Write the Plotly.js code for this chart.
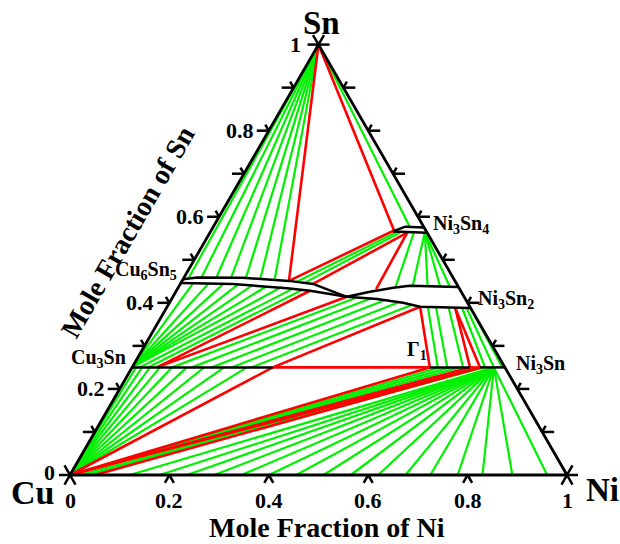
<!DOCTYPE html>
<html><head><meta charset="utf-8">
<script src="https://cdn.plot.ly/plotly-3.0.1.min.js"></script>
<style>html,body{margin:0;padding:0;background:#fff;}#chart{width:620px;height:544px;}</style>
</head><body><div id="chart"></div>
<script>
// All compositions are [mole fraction Ni, mole fraction Sn]
const cornerCu = [0, 0], cornerNi = [1, 0], cornerSn = [0, 1];

// single-phase boundaries (black)
const cu6sn5Top = [[0,0.455],[0.026,0.459],[0.119,0.458],[0.215,0.451],[0.267,0.444],[0.350,0.414]];
const cu6sn5Bot = [[0,0.446],[0.106,0.4435],[0.220,0.434],[0.269,0.428],[0.350,0.414]];
const ni3sn2Top = [[0.350,0.414],[0.391,0.4256],[0.433,0.435],[0.464,0.4395],[0.563,0.437]];
const ni3sn2Bot = [[0.350,0.414],[0.413,0.409],[0.470,0.400],[0.509,0.391],[0.612,0.388]];
const ni3sn4Top = [[0.367,0.566],[0.386,0.577],[0.425,0.575]];
const ni3sn4Bot = [[0.367,0.566],[0.437,0.563]];
const cu3snLine = [[0,0.25],[0.283,0.25]];
const gamma1Line = [[0.599,0.25],[0.680,0.25]];
const ni3snLine = [[0.700,0.25],[0.750,0.25]];

// three-phase triangle edges (red)
const redLines = [
  [[0,1],[0.215,0.451]],
  [[0,1],[0.368,0.568]],
  [[0.215,0.451],[0.368,0.568]],
  [[0.267,0.444],[0.397,0.563]],
  [[0.397,0.563],[0.400,0.432]],
  [[0.050,0.25],[0.269,0.428]],
  [[0.050,0.25],[0.350,0.414]],
  [[0.283,0.25],[0.509,0.391]],
  [[0.509,0.391],[0.599,0.25]],
  [[0.283,0.25],[0.599,0.25]],
  [[0.581,0.388],[0.680,0.25]],
  [[0.581,0.388],[0.700,0.25]],
  [[0.680,0.25],[0.700,0.25]],
  [[0,0],[0.283,0.25]],
  [[0,0],[0.599,0.25]],
  [[0,0],[0.680,0.25]],
  [[0,0],[0.700,0.25]],
  [[0.05,0],[0.700,0.25]]
];

// tie lines (green)
const tieLiqCu6Sn5 = [[0.01,0.457],[0.035,0.459],[0.065,0.459],[0.095,0.458],[0.125,0.458],[0.155,0.456],[0.185,0.453]];
const tieLiqNi3Sn4 = [[0.395,0.577]];
const tieCu6Sn5Ni3Sn4 = [[[0.232,0.449],[0.377,0.566]],[[0.249,0.447],[0.386,0.566]]];
const tieNi3Sn4Ni3Sn2 = [
  [[0.410,0.564],[0.437,0.435]],
  [[0.432,0.564],[0.470,0.439]],
  [[0.432,0.564],[0.500,0.439]],
  [[0.432,0.564],[0.525,0.439]],
  [[0.432,0.564],[0.545,0.438]]
];
const tieCu3SnCu6Sn5 = [
  [[0,0.25],[0.025,0.445]],[[0,0.25],[0.056,0.444]],[[0,0.25],[0.086,0.443]],
  [[0,0.25],[0.116,0.442]],[[0,0.25],[0.146,0.440]],[[0,0.25],[0.176,0.438]],
  [[0,0.25],[0.207,0.436]],[[0.015,0.25],[0.232,0.433]],[[0.032,0.25],[0.252,0.430]]
];
const tieCu3SnNi3Sn2 = [
  [[0.08,0.25],[0.37,0.412]],[[0.12,0.25],[0.40,0.410]],[[0.16,0.25],[0.43,0.406]],
  [[0.20,0.25],[0.46,0.401]],[[0.24,0.25],[0.49,0.395]]
];
const tieGamma1Ni3Sn2 = [[[0.615,0.25],[0.525,0.390]],[[0.634,0.25],[0.542,0.389]],[[0.666,0.25],[0.568,0.388]]];
const tieNi3SnNi3Sn2 = [[[0.710,0.25],[0.595,0.388]],[[0.728,0.25],[0.603,0.389]],[[0.745,0.25],[0.610,0.390]]];
const tieFccCu3Sn = [[0.008,0.25],[0.020,0.25],[0.036,0.25],[0.056,0.25],[0.080,0.25],[0.110,0.25],[0.145,0.25],[0.185,0.25],[0.231,0.25]];
const tieFccGamma1 = [[0.620,0.25],[0.640,0.25],[0.660,0.25]];
const tieFccNi3SnNear = [[[0.020,0],[0.704,0.25]],[[0.035,0],[0.708,0.25]]];
const ni3snFanCenter = [0.728, 0.25];
const tieFccNi3Sn = [0.12,0.18,0.235,0.29,0.345,0.40,0.455,0.51,0.565,0.62,0.675,0.725,0.78,0.83,0.89,0.96];

// axis ticks and labels
const niTickVals = [0, 0.2, 0.4, 0.6, 0.8, 1];
const niTickText = ['0', '0.2', '0.4', '0.6', '0.8', '1'];
const niTickMarks = [0.2, 0.4, 0.6, 0.8];
const snTickVals = [0, 0.2, 0.4, 0.6, 0.8, 1];
const snTickText = ['0', '0.2', '0.4', '0.6', '0.8', '1'];
const snTickMarks = [0.1,0.2,0.3,0.4,0.5,0.6,0.7,0.8,0.9];

// phase labels: [text, Ni, Sn, xanchor, xshift, yshift]
const phaseLabels = [
  ['Ni<sub>3</sub>Sn<sub>4</sub>', 0.428, 0.572, 'left', 6, 4],
  ['Cu<sub>6</sub>Sn<sub>5</sub>', 0, 0.455, 'right', -4, 9],
  ['Ni<sub>3</sub>Sn<sub>2</sub>', 0.60, 0.40, 'left', 8, 3],
  ['Cu<sub>3</sub>Sn', 0, 0.25, 'right', -4, 9],
  ['Ni<sub>3</sub>Sn', 0.75, 0.25, 'left', 9, 3],
  ['Γ<sub>1</sub>', 0.56, 0.25, 'left', -5, 17]
];

// ---------- drawing ----------
const S3 = Math.sqrt(3) / 2;
const PX = 1 / 497;
function toXY(p) { return [p[0] + p[1] / 2, p[1] * S3]; }
function segTrace(segs, color, width) {
  const x = [], y = [];
  segs.forEach(s => { s.forEach(p => { const q = toXY(p); x.push(q[0]); y.push(q[1]); }); x.push(null); y.push(null); });
  return {type:'scatter', mode:'lines', x, y, line:{color, width}, hoverinfo:'skip', showlegend:false, cliponaxis:false};
}
function rawTrace(x, y, color, width) {
  return {type:'scatter', mode:'lines', x, y, line:{color, width}, hoverinfo:'skip', showlegend:false, cliponaxis:false};
}
const fan = (from, ends) => ends.map(e => [from, e]);

const greenSegs = [].concat(
  fan(cornerSn, tieLiqCu6Sn5), fan(cornerSn, tieLiqNi3Sn4), tieCu6Sn5Ni3Sn4, tieNi3Sn4Ni3Sn2,
  tieCu3SnCu6Sn5, tieCu3SnNi3Sn2, tieGamma1Ni3Sn2, tieNi3SnNi3Sn2,
  fan(cornerCu, tieFccCu3Sn), fan(cornerCu, tieFccGamma1), tieFccNi3SnNear,
  tieFccNi3Sn.map(n => [[n, 0], ni3snFanCenter])
);
const blackSegs = [cu6sn5Top, cu6sn5Bot, ni3sn2Top, ni3sn2Bot, ni3sn4Top, ni3sn4Bot, cu3snLine, gamma1Line, ni3snLine];
const edgeSegs = [[cornerCu, cornerNi, cornerSn, cornerCu]];

// tick marks
const tx = [], ty = [];
function addSeg(x0, y0, x1, y1) { tx.push(x0, x1, null); ty.push(y0, y1, null); }
niTickMarks.forEach(t => {
  const [x, y] = toXY([t, 0]); const L = 9 * PX;
  addSeg(x, y, x - 0.5 * L, y - S3 * L); addSeg(x, y, x + 0.5 * L, y - S3 * L);
});
snTickMarks.forEach(s => {
  let [x, y] = toXY([0, s]); const H = 12 * PX, A = 7 * PX;
  addSeg(x, y, x - H, y); addSeg(x, y, x - 0.5 * A, y + S3 * A);
  [x, y] = toXY([1 - s, s]);
  addSeg(x, y, x + H, y); addSeg(x, y, x + 0.5 * A, y + S3 * A);
});
(function corners() {
  const L = 11 * PX;
  let [x, y] = toXY(cornerCu);
  addSeg(x, y, x - L, y); addSeg(x, y, x - 0.5 * L, y - S3 * L);
  addSeg(x - 0.5 * L, y + S3 * L, x + 0.5 * L, y - S3 * L);
  [x, y] = toXY(cornerNi);
  addSeg(x, y, x + L, y); addSeg(x, y, x + 0.5 * L, y - S3 * L);
  addSeg(x + 0.5 * L, y + S3 * L, x - 0.5 * L, y - S3 * L);
  [x, y] = toXY(cornerSn);
  addSeg(x - L, y, x + L, y); addSeg(x, y, x + 0.5 * L, y + S3 * L); addSeg(x, y, x - 0.5 * L, y + S3 * L);
})();

const traces = [
  segTrace(greenSegs, '#00f000', 2.2),
  segTrace(redLines, '#ff0000', 2.6),
  segTrace(blackSegs, '#000000', 2.5),
  segTrace(edgeSegs, '#000000', 2.8),
  rawTrace(tx, ty, '#000000', 2.5)
];

const FONT = 'Liberation Serif, Times New Roman, serif';
const ann = [];
const P = (px, py) => ({x: px / 620, y: 1 - py / 544});
function pAnn(text, px, py, size, extra) {
  const p = P(px, py);
  ann.push(Object.assign({xref:'paper', yref:'paper', x:p.x, y:p.y, text:'<b>' + text + '</b>', showarrow:false,
    xanchor:'center', yanchor:'middle', font:{family:FONT, size, color:'#000'}}, extra || {}));
}
pAnn('Sn', 321, 23, 33);
pAnn('Cu', 32, 492, 34);
pAnn('Ni', 602, 490, 33);
pAnn('Mole Fraction of Ni', 327, 527, 28);
pAnn('Mole Fraction of Sn', 127, 232, 28, {textangle:-60});

niTickVals.forEach((v, i) => {
  const [x, y] = toXY([v, 0]);
  ann.push({x, y, xref:'x', yref:'y', text:'<b>' + niTickText[i] + '</b>', showarrow:false, xanchor:'center', yanchor:'middle',
    yshift:-25, font:{family:FONT, size:22, color:'#000'}});
});
snTickVals.forEach((v, i) => {
  const [x, y] = toXY([0, v]);
  ann.push({x, y, xref:'x', yref:'y', text:'<b>' + snTickText[i] + '</b>', showarrow:false, xanchor:'right', yanchor:'middle',
    xshift: v === 1 ? -16 : -13, yshift: v === 0 ? 3 : 0, font:{family:FONT, size:22, color:'#000'}});
});
phaseLabels.forEach(l => {
  const [x, y] = toXY([l[1], l[2]]);
  ann.push({x, y, xref:'x', yref:'y', text:'<b>' + l[0] + '</b>', showarrow:false, xanchor:l[3], yanchor:'middle',
    xshift:l[4], yshift:l[5], font:{family:FONT, size:20, color:'#000'}});
});

const layout = {
  width:620, height:544, margin:{l:0, r:0, t:0, b:0},
  paper_bgcolor:'#ffffff', plot_bgcolor:'#ffffff',
  xaxis:{range:[-70/497, 550/497], visible:false, fixedrange:true},
  yaxis:{range:[-69/497, 475/497], visible:false, fixedrange:true},
  showlegend:false, annotations:ann
};
Plotly.newPlot('chart', traces, layout, {staticPlot:true, displayModeBar:false});
</script>
</body></html>
